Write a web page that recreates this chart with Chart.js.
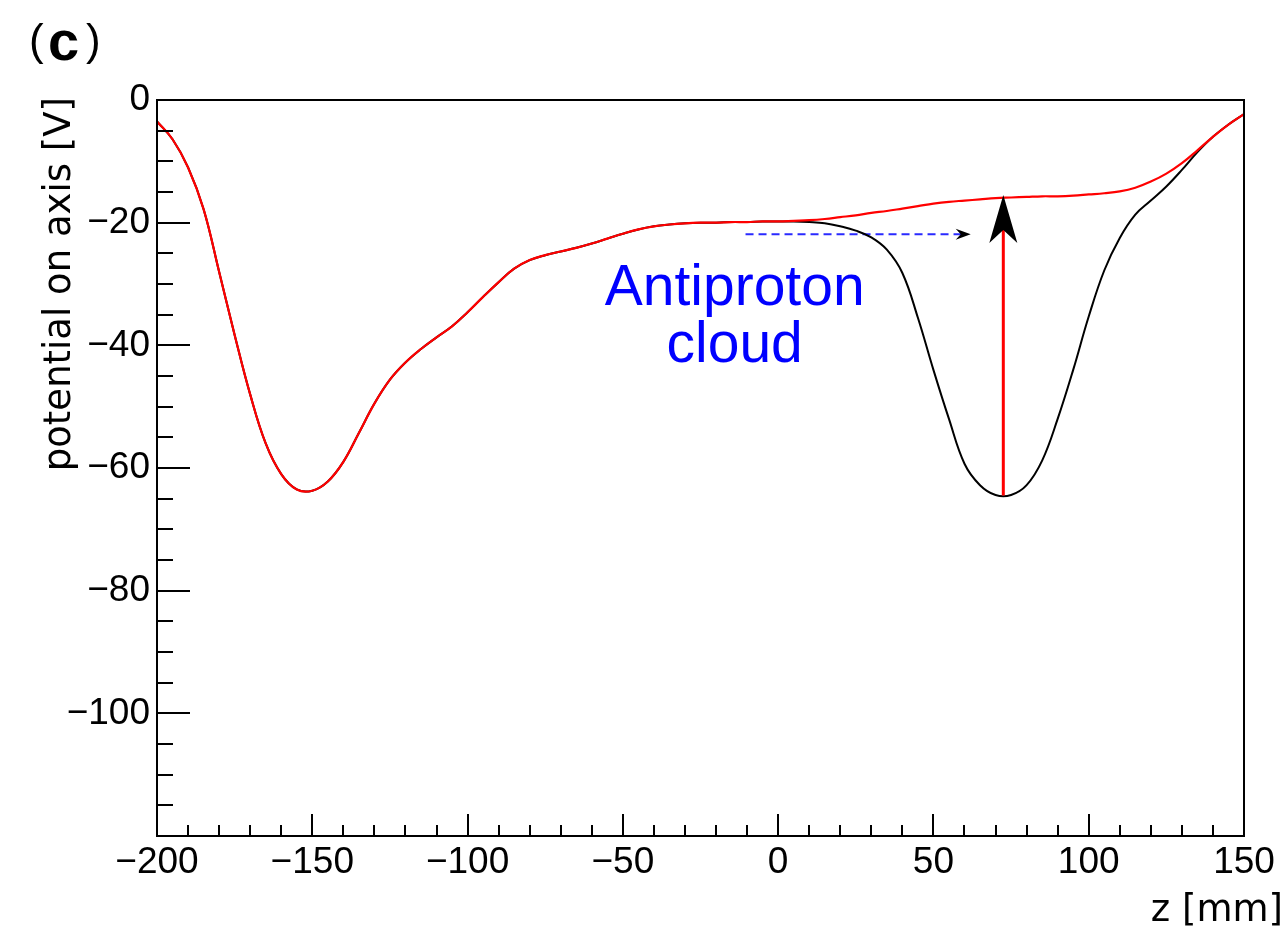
<!DOCTYPE html>
<html>
<head>
<meta charset="utf-8">
<script src="https://cdn.jsdelivr.net/npm/chart.js@4.4.1/dist/chart.umd.min.js"></script>
<style>
  html, body { margin: 0; padding: 0; background: #fff; }
  #wrap { width: 1285px; height: 928px; }
</style>
</head>
<body>
<div id="wrap"><canvas id="cv" width="1285" height="928"></canvas></div>
<script>
// z positions along the axis [mm]
var zValues = [
  -200, -195, -190, -185, -180, -175, -170, -165, -160, -155, -150, -145, -140, -135,
  -130, -125, -120, -115, -110, -105, -100, -95, -90, -85, -80, -75, -70, -65, -60,
  -55, -50, -45, -40, -35, -30, -25, -20, -15, -10, -5, 0, 5, 10, 15,
  20, 25, 30, 35, 40, 45, 50, 55, 60, 65, 70, 75, 80, 85,
  90, 95, 100, 105, 110, 115, 120, 125, 130, 135, 140, 145, 150
];
// potential after the transfer (red)
var redPotential = [
  -3.5, -6.4, -11.0, -17.8, -28.0, -38.3, -48.0, -56.0, -61.0, -63.5, -63.7, -62.2, -59.0, -54.3,
  -49.5, -45.6, -42.8, -40.6, -38.7, -36.9, -34.6, -32.1, -29.7, -27.5, -26.1, -25.3, -24.7, -24.1, -23.4,
  -22.6, -21.8, -21.1, -20.6, -20.3, -20.1, -20.0, -20.0, -19.9, -19.9, -19.8, -19.8, -19.7, -19.6, -19.4,
  -19.1, -18.8, -18.4, -18.1, -17.7, -17.3, -16.9, -16.6, -16.4, -16.2, -16.0, -15.9, -15.8, -15.7,
  -15.7, -15.6, -15.4, -15.2, -14.9, -14.3, -13.3, -12.0, -10.3, -8.2, -6.0, -4.0, -2.3
];
// potential holding the antiproton cloud (black)
var blackPotential = [
  -3.5, -6.4, -11.0, -17.8, -28.0, -38.3, -48.0, -56.0, -61.0, -63.5, -63.7, -62.2, -59.0, -54.3,
  -49.5, -45.6, -42.8, -40.6, -38.7, -36.9, -34.6, -32.1, -29.7, -27.5, -26.1, -25.3, -24.7, -24.1, -23.4,
  -22.6, -21.8, -21.1, -20.6, -20.3, -20.1, -20.0, -20.0, -19.9, -19.9, -19.8, -19.8, -19.8, -19.9, -20.1,
  -20.6, -21.3, -22.4, -24.4, -28.2, -35.5, -44.0, -52.0, -59.3, -62.8, -64.4, -64.4, -62.8, -58.8,
  -52.0, -44.0, -35.3, -27.8, -22.5, -18.7, -16.4, -14.1, -11.4, -8.5, -6.0, -4.0, -2.3
];

var xMajorTicks = [-200, -150, -100, -50, 0, 50, 100, 150];
var yMajorTicks = [0, -20, -40, -60, -80, -100, -120];

// annotation anchors, in data units
var liftArrow = { z: 72.5, from: -64.5, to: -21.0, tip: -15.5 };
var shiftArrow = { from: -10.5, to: 59, tip: 62, v: -21.9 };
var cloudLabel = { z: -14, lines: ['Antiproton', 'cloud'], v: [-33.4, -42.7] };

function pts(xs, ys) {
  return xs.map(function (x, i) { return { x: x, y: ys[i] }; });
}

function minusSign(v) {
  return String(v).replace('-', '\u2212');
}

function arrowHead(ctx, tx, ty, dx, dy, len, half, notch) {
  var px = -dy, py = dx;
  ctx.beginPath();
  ctx.moveTo(tx, ty);
  ctx.lineTo(tx - dx * len + px * half, ty - dy * len + py * half);
  ctx.lineTo(tx - dx * notch, ty - dy * notch);
  ctx.lineTo(tx - dx * len - px * half, ty - dy * len - py * half);
  ctx.closePath();
  ctx.fill();
}

var decor = {
  id: 'decor',
  afterDraw: function (chart) {
    var ctx = chart.ctx, a = chart.chartArea;
    var x = chart.scales.x, y = chart.scales.y;
    ctx.save();
    ctx.strokeStyle = '#000';
    ctx.lineWidth = 2;
    ctx.beginPath();
    for (var v = -120; v <= 0; v += 5) {
      var yy = Math.round(y.getPixelForValue(v));
      ctx.moveTo(a.left, yy);
      ctx.lineTo(a.left + (v % 20 === 0 ? 33 : 16), yy);
    }
    for (var z = -200; z <= 150; z += 10) {
      var xx = Math.round(x.getPixelForValue(z));
      ctx.moveTo(xx, a.bottom);
      ctx.lineTo(xx, a.bottom - (z % 50 === 0 ? 22 : 11));
    }
    ctx.stroke();
    ctx.strokeRect(a.left, a.top, a.right - a.left, a.bottom - a.top);

    // arrow heads
    ctx.fillStyle = '#000';
    arrowHead(ctx, x.getPixelForValue(liftArrow.z), y.getPixelForValue(liftArrow.tip), 0, -1, 48, 14, 35);
    arrowHead(ctx, x.getPixelForValue(shiftArrow.tip), y.getPixelForValue(shiftArrow.v), 1, 0, 15, 5.5, 10);

    // cloud label
    ctx.fillStyle = '#0000ff';
    ctx.font = '57px "Liberation Sans", Arial, sans-serif';
    ctx.textAlign = 'center';
    ctx.textBaseline = 'alphabetic';
    cloudLabel.lines.forEach(function (s, i) {
      ctx.fillText(s, x.getPixelForValue(cloudLabel.z), y.getPixelForValue(cloudLabel.v[i]));
    });

    // axis titles
    ctx.fillStyle = '#000';
    ctx.font = '37px "DejaVu Sans", sans-serif';
    ctx.textAlign = 'right';
    ctx.fillText('z [mm]', 1283, 921);
    ctx.save();
    ctx.translate(70, 97);
    ctx.rotate(-Math.PI / 2);
    ctx.fillText('potential on axis [V]', 0, 0);
    ctx.restore();

    // panel tag
    ctx.textAlign = 'left';
    ctx.font = '44px "Liberation Sans", Arial, sans-serif';
    ctx.fillText('(', 29, 55);
    ctx.fillText(')', 86, 55);
    ctx.font = 'bold 56px "Liberation Sans", Arial, sans-serif';
    ctx.fillText('c', 48, 60);
    ctx.restore();
  }
};

var tickFont = { family: '"Liberation Sans", Arial, sans-serif', size: 37 };

new Chart(document.getElementById('cv').getContext('2d'), {
  type: 'line',
  data: {
    datasets: [
      {
        data: [{ x: liftArrow.z, y: liftArrow.from }, { x: liftArrow.z, y: liftArrow.to }],
        borderColor: '#ff0000', borderWidth: 3, pointRadius: 0, tension: 0
      },
      {
        data: pts(zValues, redPotential),
        borderColor: '#ff0000', borderWidth: 2.2, pointRadius: 0, tension: 0.4
      },
      {
        data: pts(zValues, blackPotential),
        borderColor: '#000000', borderWidth: 2, pointRadius: 0, tension: 0.4
      },
      {
        data: [{ x: shiftArrow.from, y: shiftArrow.v }, { x: shiftArrow.to, y: shiftArrow.v }],
        borderColor: '#2a2aff', borderWidth: 2, borderDash: [8, 5], pointRadius: 0, tension: 0
      }
    ]
  },
  options: {
    responsive: false,
    animation: false,
    devicePixelRatio: 1,
    layout: { padding: { top: 100, right: 41, left: 0, bottom: 0 } },
    plugins: { legend: { display: false }, tooltip: { enabled: false }, title: { display: false } },
    scales: {
      x: {
        type: 'linear', min: -200, max: 150,
        grid: { display: false, drawTicks: false },
        border: { display: false },
        afterBuildTicks: function (s) { s.ticks = xMajorTicks.map(function (v) { return { value: v }; }); },
        afterFit: function (s) { s.height = 92; },
        ticks: {
          color: '#000', font: tickFont, padding: 5, maxRotation: 0, autoSkip: false,
          callback: function (v) { return minusSign(v); }
        }
      },
      y: {
        type: 'linear', min: -120, max: 0,
        grid: { display: false, drawTicks: false },
        border: { display: false },
        afterBuildTicks: function (s) { s.ticks = yMajorTicks.map(function (v) { return { value: v }; }); },
        afterFit: function (s) { s.width = 157; },
        ticks: {
          color: '#000', font: tickFont, padding: 7, autoSkip: false,
          callback: function (v) { return v === -120 ? '' : minusSign(v); }
        }
      }
    }
  },
  plugins: [decor]
});
</script>
</body>
</html>
